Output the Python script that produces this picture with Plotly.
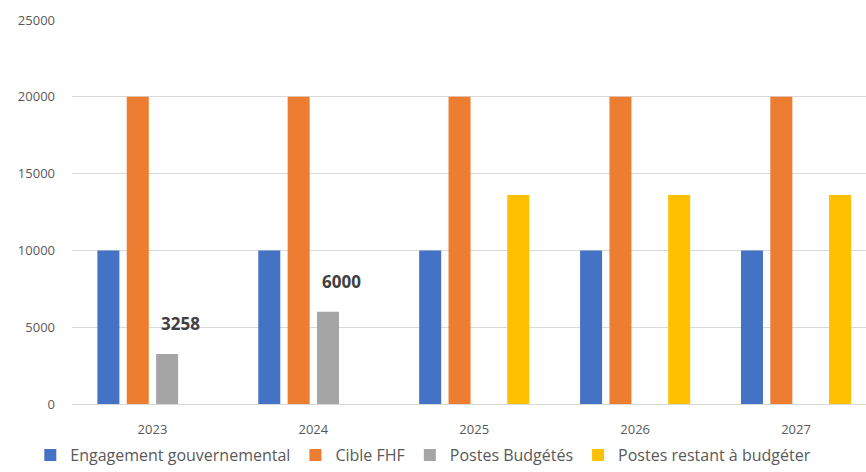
import plotly.graph_objects as go

years = ["2023", "2024", "2025", "2026", "2027"]
engagement = [10000, 10000, 10000, 10000, 10000]
cible_fhf = [20000, 20000, 20000, 20000, 20000]
postes_budgetes = [3258, 6000, None, None, None]
postes_restant = [None, None, 13600, 13600, 13600]
label_years = ["2023", "2024"]
label_values = [3258, 6000]
y_ticks = [0, 5000, 10000, 15000, 20000, 25000]

series = [
    ("Engagement gouvernemental", engagement, "#4472C4"),
    ("Cible FHF", cible_fhf, "#ED7D31"),
    ("Postes Budgétés", postes_budgetes, "#A5A5A5"),
    ("Postes restant à budgéter", postes_restant, "#FFC000"),
]

fig = go.Figure()
for name, vals, color in series:
    fig.add_trace(go.Bar(x=years, y=vals, name=name, marker_color=color,
                         marker_line_width=0))

for yr, v in zip(label_years, label_values):
    fig.add_annotation(x=years.index(yr), y=v, text=f"<b>{v}</b>", showarrow=False,
                       xref="x", yref="y",
                       xshift=28, yshift=30, yanchor="middle",
                       font=dict(family="Open Sans", size=17, color="#404040"))

fig.update_layout(
    width=866, height=472,
    margin=dict(l=72, r=0, t=20, b=68, autoexpand=False),
    paper_bgcolor="white", plot_bgcolor="white",
    barmode="group", bargap=0.27, bargroupgap=0.25,
    font=dict(family="Open Sans", color="#595959"),
    legend=dict(orientation="h", xref="container", x=0.035, xanchor="left",
                yref="container", y=0.0, yanchor="bottom",
                font=dict(size=16, color="#595959"),
                itemwidth=30, traceorder="normal"),
    showlegend=True,
)
fig.update_xaxes(type="category", range=[-0.5, 4.435], showgrid=False, showline=True,
                 linecolor="#d9d9d9", linewidth=1, ticks="",
                 tickfont=dict(size=13, color="#595959"),
                 ticklabelstandoff=13)
fig.update_yaxes(range=[0, 25000], tickvals=y_ticks, tickformat="d", showgrid=True,
                 gridcolor="#d9d9d9", gridwidth=1, zeroline=False,
                 showline=False, ticks="",
                 tickfont=dict(size=13, color="#595959"),
                 ticklabelstandoff=16)

fig.write_html("out.html")
